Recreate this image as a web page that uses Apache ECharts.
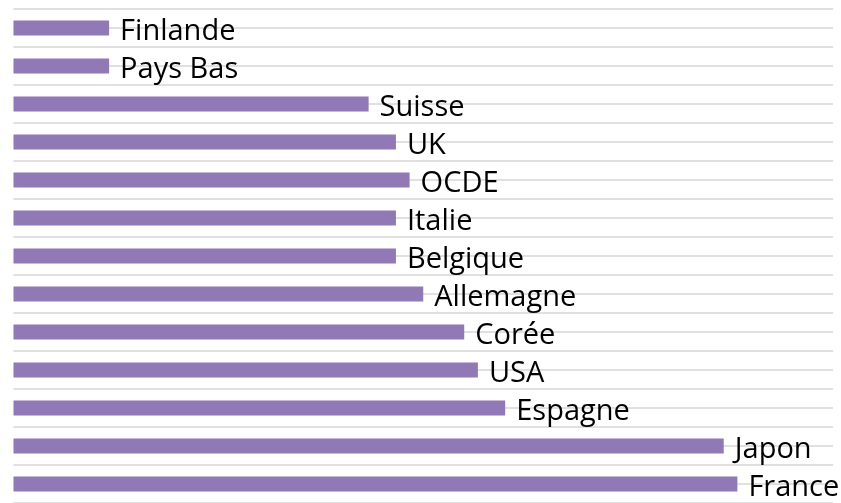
<!DOCTYPE html>
<html>
<head>
<meta charset="utf-8">
<script src="https://cdn.jsdelivr.net/npm/echarts@6/dist/echarts.min.js"></script>
<style>
  html, body { margin: 0; padding: 0; background: #fff; }
  #chart { width: 841px; height: 503px; }
</style>
</head>
<body>
<div id="chart"></div>
<script>
    // pays, du haut vers le bas
    var pays = ['Finlande', 'Pays Bas', 'Suisse', 'UK', 'OCDE', 'Italie', 'Belgique',
                'Allemagne', 'Corée', 'USA', 'Espagne', 'Japon', 'France'];
    var valeurs = [7, 7, 26, 28, 29, 28, 28, 30, 33, 34, 36, 52, 53];

    var chart = echarts.init(document.getElementById('chart'));

    var option = {
        animation: false,
        grid: { left: 13.5, right: 8, top: 9, bottom: -2 },
        xAxis: {
            type: 'value',
            min: 0,
            max: 60,
            show: false,
            splitLine: { show: false }
        },
        yAxis: [{
            type: 'category',
            data: pays,
            inverse: true,
            axisLine: { show: false },
            axisTick: { show: false },
            axisLabel: { show: false },
            splitLine: { show: false }
        }, {
            // lignes de fond : une par demi-catégorie
            type: 'value',
            min: 0,
            max: pays.length,
            interval: 0.5,
            position: 'left',
            axisLine: { show: false },
            axisTick: { show: false },
            axisLabel: { show: false },
            splitLine: { show: true, lineStyle: { color: '#d6d6d6', width: 1.5 } }
        }],
        series: [{
            type: 'bar',
            yAxisIndex: 0,
            data: valeurs,
            barWidth: 15,
            itemStyle: { color: '#9179b5' },
            label: {
                show: true,
                position: 'right',
                distance: 11,
                offset: [0, 4],
                formatter: '{b}',
                color: '#000',
                fontFamily: 'Open Sans',
                fontSize: 29
            }
        }]
    };

    chart.setOption(option);
</script>
</body>
</html>
